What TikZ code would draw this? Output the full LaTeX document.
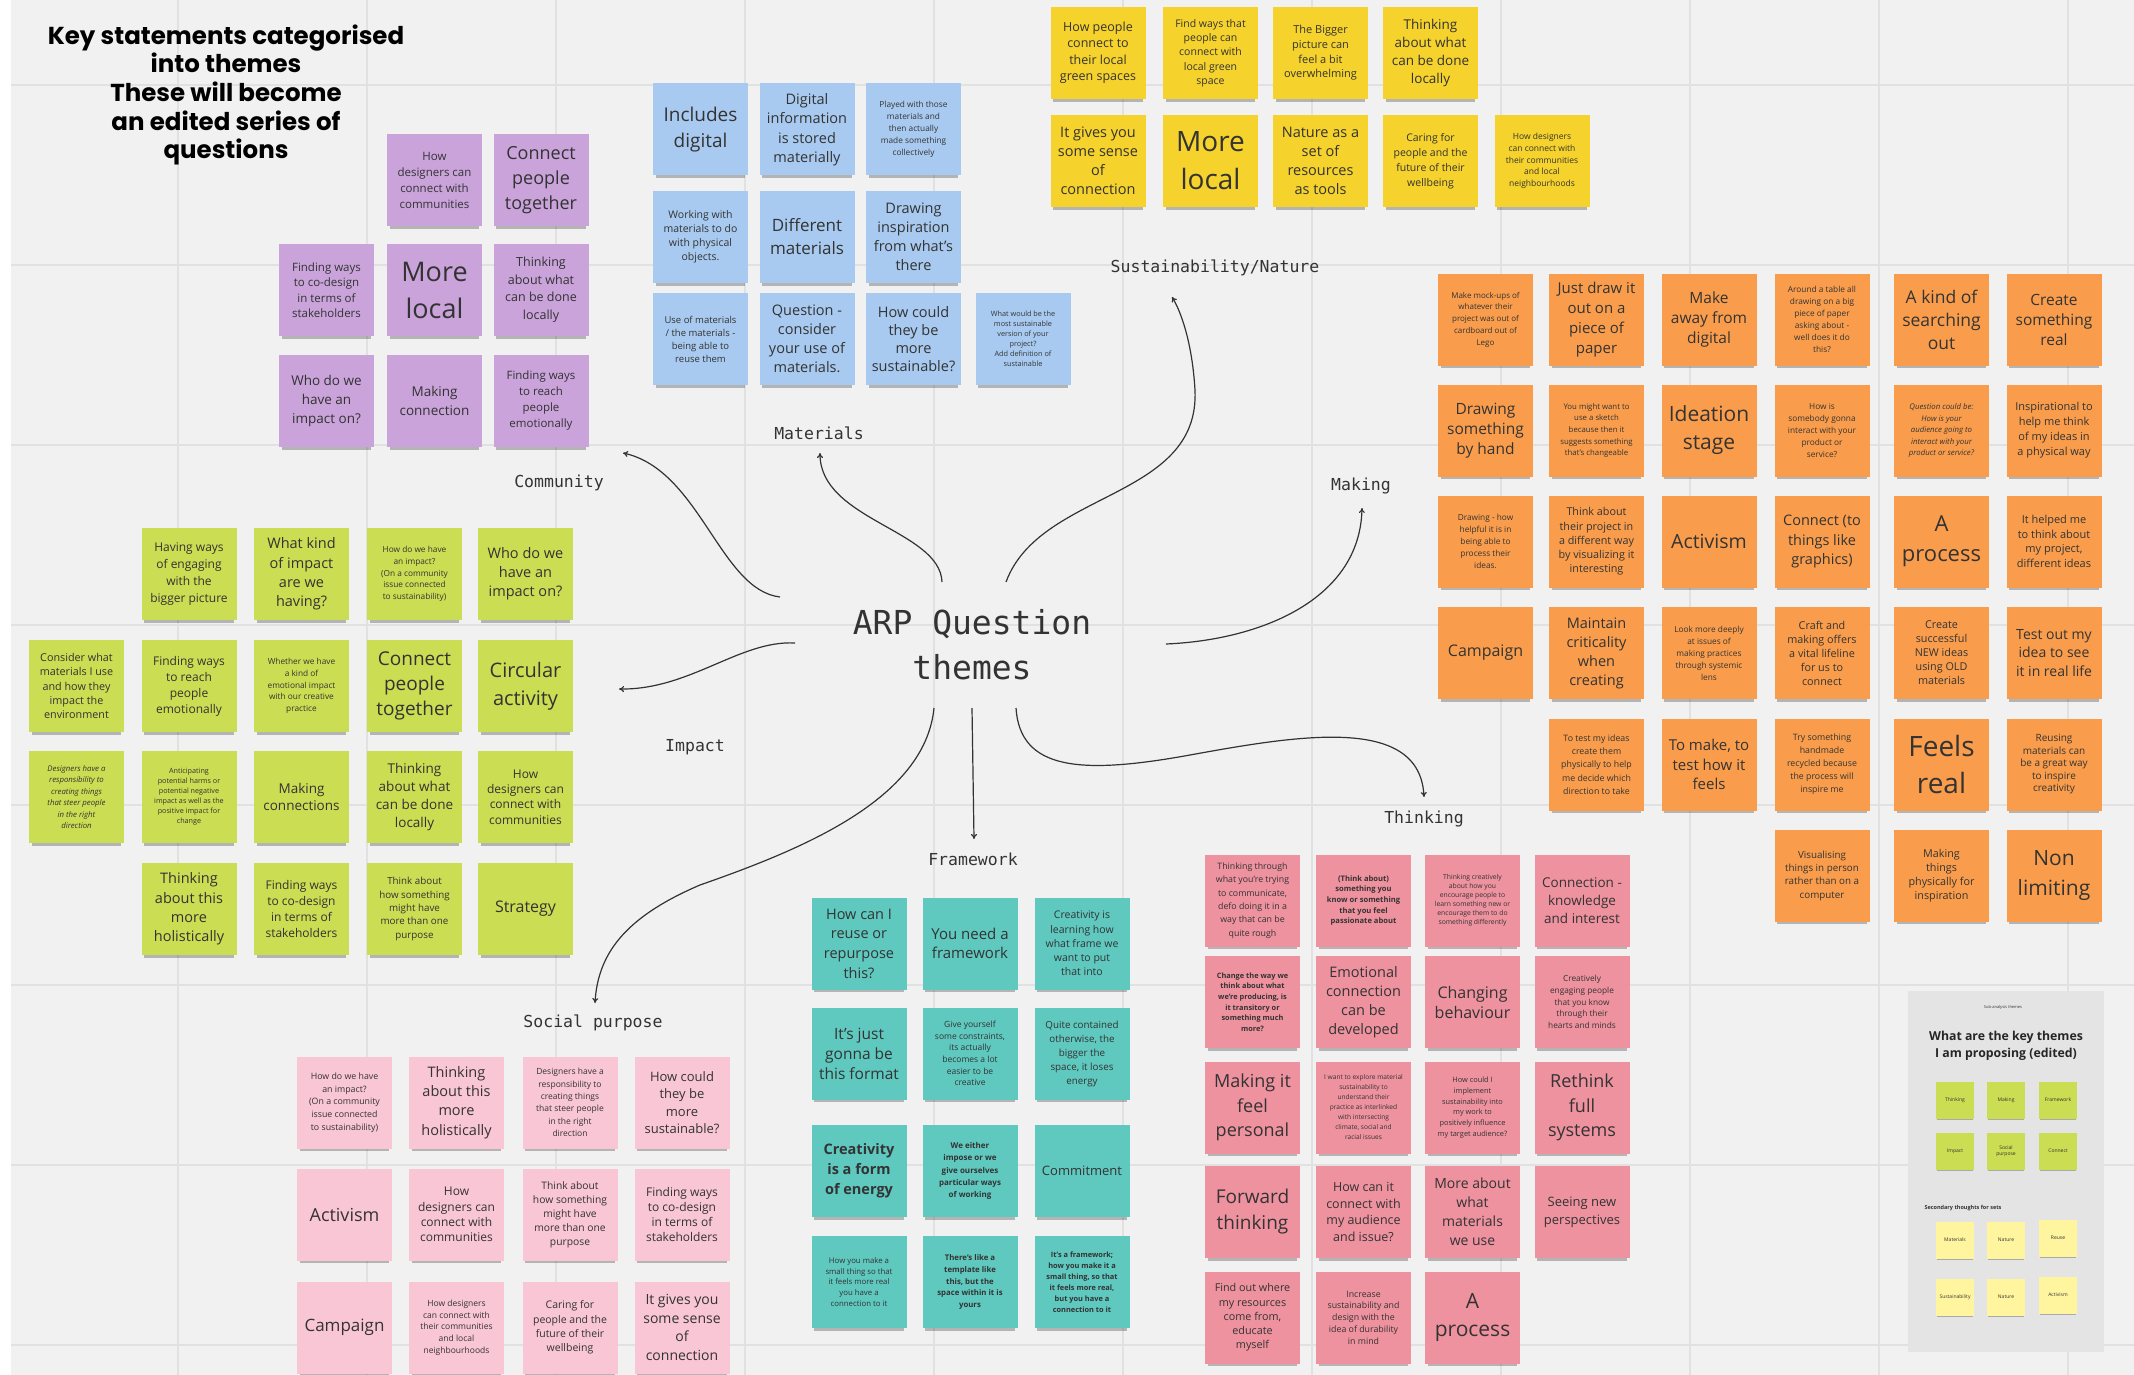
\documentclass[tikz,border=0pt]{standalone}
\usepackage{fontspec}
\setmainfont{Open Sans}
\newfontfamily\titlef{Poppins}
\newfontfamily\monof{DejaVu Sans Mono}
\usetikzlibrary{arrows.meta,shadows}
\definecolor{bg}{HTML}{F1F1F1}
\definecolor{gridc}{HTML}{E1E1E1}
\definecolor{ink}{HTML}{333333}
\definecolor{cpur}{HTML}{C9A3DA}
\definecolor{cblu}{HTML}{A8CAF0}
\definecolor{cyel}{HTML}{F6D22C}
\definecolor{cora}{HTML}{F99D4C}
\definecolor{clim}{HTML}{CBDD52}
\definecolor{cpin}{HTML}{F9C6D5}
\definecolor{ctea}{HTML}{5FC8BF}
\definecolor{cros}{HTML}{EE929F}
\definecolor{cpal}{HTML}{FFF59E}
\definecolor{cpan}{HTML}{E4E4E4}
\newcommand\nf[2]{\fontsize{#1}{#2}\selectfont}
\begin{document}
\begin{tikzpicture}[x=1pt,y=-1pt,
  note/.style={rectangle, minimum width=95pt, minimum height=92pt, inner sep=1pt, align=center, text=ink,
    general shadow={fill=black, opacity=0.25, shadow yshift=-6pt, shadow scale=0.94}},
  pur/.style={note, fill=cpur}, blu/.style={note, fill=cblu}, yel/.style={note, fill=cyel},
  ora/.style={note, fill=cora}, lim/.style={note, fill=clim}, pin/.style={note, fill=cpin},
  tea/.style={note, fill=ctea}, ros/.style={note, fill=cros},
  mini/.style={rectangle, minimum width=38pt, minimum height=37pt, inner sep=0pt, align=center, text=ink,
    font=\nf{5}{6}, general shadow={fill=black, opacity=0.25, shadow yshift=-3pt, shadow scale=0.94}},
  lbl/.style={font=\monof\nf{16.5}{20}, text=ink},
  conn/.style={draw=ink, line width=1.2pt, -{To[length=5pt,width=6pt]}}
]
\useasboundingbox (0,0) rectangle (2134,1375);
\fill[white] (0,0) rectangle (2134,1375);
\fill[bg] (11,0) rectangle (2134,1375);
\foreach \gx in {178,367,...,2068} \draw[gridc, line width=2pt] (\gx,0) -- (\gx,1375);
\foreach \gy in {85,265,...,1345} \draw[gridc, line width=2pt] (11,\gy) -- (2134,\gy);

% title
\node[font=\titlef\bfseries\nf{24.5}{28.7}, align=center, text=black] (title) at (226,95)
 {Key statements categorised\\into themes\\These will become\\an edited series of\\questions};

% Community
\node[pur, font=\nf{11.5}{16}] (c1) at (434.5,180) {How\\designers can\\connect with\\communities};
\node[pur, font=\nf{18}{25}] (c2) at (541,180) {Connect\\people\\together};
\node[pur, font=\nf{11.5}{15.5}] (c3) at (326.5,290) {Finding ways\\to co-design\\in terms of\\stakeholders};
\node[pur, font=\nf{27}{37}] (c4) at (434.5,290) {More\\local};
\node[pur, font=\nf{12.5}{17.5}] (c5) at (541,290) {Thinking\\about what\\can be done\\locally};
\node[pur, font=\nf{13.5}{19}] (c6) at (326.5,401) {Who do we\\have an\\impact on?};
\node[pur, font=\nf{13.5}{19}] (c7) at (434.5,401) {Making\\connection};
\node[pur, font=\nf{11.5}{16}] (c8) at (541,401) {Finding ways\\to reach\\people\\emotionally};

% Materials
\node[blu, font=\nf{19}{26}] (m1) at (700.5,129.5) {Includes\\digital};
\node[blu, font=\nf{14.5}{19.5}] (m2) at (807,129.5) {Digital\\information\\is stored\\materially};
\node[blu, font=\nf{8.3}{12}] (m3) at (913.5,129.5) {Played with those\\materials and\\then actually\\made something\\collectively};
\node[blu, font=\nf{10.5}{14}] (m4) at (700.5,237) {Working with\\materials to do\\with physical\\objects.};
\node[blu, font=\nf{17}{23}] (m5) at (807,237) {Different\\materials};
\node[blu, font=\nf{14.5}{19}] (m6) at (913.5,237) {Drawing\\inspiration\\from what's\\there};
\node[blu, font=\nf{9.5}{13}] (m7) at (700.5,339) {Use of materials\\/ the materials -\\being able to\\reuse them};
\node[blu, font=\nf{14.5}{19}] (m8) at (807,339) {Question -\\consider\\your use of\\materials.};
\node[blu, font=\nf{14.5}{18}] (m9) at (913.5,339) {How could\\they be\\more\\sustainable?};
\node[blu, font=\nf{7.3}{10}] (m10) at (1023,339) {What would be the\\most sustainable\\version of your\\project?\\Add definition of\\sustainable};

% Sustainability / Nature
\node[yel, font=\nf{12.5}{16.5}] (s1) at (1098,53) {How people\\connect to\\their local\\green spaces};
\node[yel, font=\nf{10.5}{14.3}] (s2) at (1210.5,53) {Find ways that\\people can\\connect with\\local green\\space};
\node[yel, font=\nf{11}{14.7}] (s3) at (1320.5,53) {The Bigger\\picture can\\feel a bit\\overwhelming};
\node[yel, font=\nf{13.5}{18}] (s4) at (1430.5,53) {Thinking\\about what\\can be done\\locally};
\node[yel, font=\nf{14.5}{19}] (s5) at (1098,161) {It gives you\\some sense\\of\\connection};
\node[yel, font=\nf{28}{38}] (s6) at (1210.5,161) {More\\local};
\node[yel, font=\nf{14.5}{19}] (s7) at (1320.5,161) {Nature as a\\set of\\resources\\as tools};
\node[yel, font=\nf{10.5}{15}] (s8) at (1430.5,161) {Caring for\\people and the\\future of their\\wellbeing};
\node[yel, font=\nf{8.5}{11.7}] (s9) at (1542,161) {How designers\\can connect with\\their communities\\and local\\neighbourhoods};

% Making
\node[ora, font=\nf{8}{11.7}] (k1) at (1485.5,319.5) {Make mock-ups of\\whatever their\\project was out of\\cardboard out of\\Lego};
\node[ora, font=\nf{15}{20}] (k2) at (1596.5,319.5) {Just draw it\\out on a\\piece of\\paper};
\node[ora, font=\nf{15.5}{20}] (k3) at (1709,319.5) {Make\\away from\\digital};
\node[ora, font=\nf{8.3}{12}] (k4) at (1822,319.5) {Around a table all\\drawing on a big\\piece of paper\\asking about -\\well does it do\\this?};
\node[ora, font=\nf{17.5}{23}] (k5) at (1941.5,319.5) {A kind of\\searching\\out};
\node[ora, font=\nf{15.5}{20}] (k6) at (2054,319.5) {Create\\something\\real};
\node[ora, font=\nf{15.5}{20}] (k7) at (1485.5,430.5) {Drawing\\something\\by hand};
\node[ora, font=\nf{7.8}{11.7}] (k8) at (1596.5,430.5) {You might want to\\use a sketch\\because then it\\suggests something\\that's changeable};
\node[ora, font=\nf{21}{28}] (k9) at (1709,430.5) {Ideation\\stage};
\node[ora, font=\nf{8.3}{12}] (k10) at (1822,430.5) {How is\\somebody gonna\\interact with your\\product or\\service?};
\node[ora, font=\itshape\nf{7.8}{11.5}] (k11) at (1941.5,430.5) {Question could be:\\How is your\\audience going to\\interact with your\\product or service?};
\node[ora, font=\nf{11}{15}] (k12) at (2054,430.5) {Inspirational to\\help me think\\of my ideas in\\a physical way};
\node[ora, font=\nf{8.3}{12}] (k13) at (1485.5,541.5) {Drawing - how\\helpful it is in\\being able to\\process their\\ideas.};
\node[ora, font=\nf{10.8}{14.3}] (k14) at (1596.5,541.5) {Think about\\their project in\\a different way\\by visualizing it\\interesting};
\node[ora, font=\nf{19.5}{24}] (k15) at (1709,541.5) {Activism};
\node[ora, font=\nf{14.5}{19.5}] (k16) at (1822,541.5) {Connect (to\\things like\\graphics)};
\node[ora, font=\nf{22}{30}] (k17) at (1941.5,541.5) {A\\process};
\node[ora, font=\nf{11}{14.7}] (k18) at (2054,541.5) {It helped me\\to think about\\my project,\\different ideas};
\node[ora, font=\nf{16}{20}] (k19) at (1485.5,653) {Campaign};
\node[ora, font=\nf{14.5}{19}] (k20) at (1596.5,653) {Maintain\\criticality\\when\\creating};
\node[ora, font=\nf{8.3}{12}] (k21) at (1709,653) {Look more deeply\\at issues of\\making practices\\through systemic\\lens};
\node[ora, font=\nf{10.8}{14}] (k22) at (1822,653) {Craft and\\making offers\\a vital lifeline\\for us to\\connect};
\node[ora, font=\nf{10.8}{14}] (k23) at (1941.5,653) {Create\\successful\\NEW ideas\\using OLD\\materials};
\node[ora, font=\nf{14}{18.5}] (k24) at (2054,653) {Test out my\\idea to see\\it in real life};
\node[ora, font=\nf{8.8}{13.3}] (k25) at (1596.5,764.5) {To test my ideas\\create them\\physically to help\\me decide which\\direction to take};
\node[ora, font=\nf{15}{19.5}] (k26) at (1709,764.5) {To make, to\\test how it\\feels};
\node[ora, font=\nf{8.8}{13}] (k27) at (1822,764.5) {Try something\\handmade\\recycled because\\the process will\\inspire me};
\node[ora, font=\nf{28}{37}] (k28) at (1941.5,764.5) {Feels\\real};
\node[ora, font=\nf{10}{12.5}] (k29) at (2054,764.5) {Reusing\\materials can\\be a great way\\to inspire\\creativity};
\node[ora, font=\nf{9.8}{13.3}] (k30) at (1822,875.5) {Visualising\\things in person\\rather than on a\\computer};
\node[ora, font=\nf{10.8}{14}] (k31) at (1941.5,875.5) {Making\\things\\physically for\\inspiration};
\node[ora, font=\nf{21}{30}] (k32) at (2054,875.5) {Non\\limiting};

% Impact
\node[lim, font=\nf{12}{16.7}] (i1) at (189,574) {Having ways\\of engaging\\with the\\bigger picture};
\node[lim, font=\nf{14.5}{19.3}] (i2) at (301.5,574) {What kind\\of impact\\are we\\having?};
\node[lim, font=\nf{8.3}{11.7}] (i3) at (414.5,574) {How do we have\\an impact?\\(On a community\\issue connected\\to sustainability)};
\node[lim, font=\nf{14.5}{19}] (i4) at (525.5,574) {Who do we\\have an\\impact on?};
\node[lim, font=\nf{10.8}{14.3}] (i5) at (76.5,686) {Consider what\\materials I use\\and how they\\impact the\\environment};
\node[lim, font=\nf{12}{16}] (i6) at (189,686) {Finding ways\\to reach\\people\\emotionally};
\node[lim, font=\nf{8.3}{11.7}] (i7) at (301.5,686) {Whether we have\\a kind of\\emotional impact\\with our creative\\practice};
\node[lim, font=\nf{19}{25}] (i8) at (414.5,686) {Connect\\people\\together};
\node[lim, font=\nf{20}{27.7}] (i9) at (525.5,686) {Circular\\activity};
\node[lim, font=\itshape\nf{7.8}{11.5}] (i10) at (76.5,797) {Designers have a\\responsibility to\\creating things\\that steer people\\in the right\\direction};
\node[lim, font=\nf{7.2}{10}] (i11) at (189,797) {Anticipating\\potential harms or\\potential negative\\impact as well as the\\positive impact for\\change};
\node[lim, font=\nf{13.5}{17.7}] (i12) at (301.5,797) {Making\\connections};
\node[lim, font=\nf{13.5}{17.7}] (i13) at (414.5,797) {Thinking\\about what\\can be done\\locally};
\node[lim, font=\nf{12}{15.3}] (i14) at (525.5,797) {How\\designers can\\connect with\\communities};
\node[lim, font=\nf{14.5}{19.3}] (i15) at (189,909) {Thinking\\about this\\more\\holistically};
\node[lim, font=\nf{12}{15.7}] (i16) at (301.5,909) {Finding ways\\to co-design\\in terms of\\stakeholders};
\node[lim, font=\nf{9.8}{13.3}] (i17) at (414.5,909) {Think about\\how something\\might have\\more than one\\purpose};
\node[lim, font=\nf{16}{20}] (i18) at (525.5,909) {Strategy};

% Social purpose
\node[pin, font=\nf{8.8}{12.7}] (p1) at (344.5,1102.5) {How do we have\\an impact?\\(On a community\\issue connected\\to sustainability)};
\node[pin, font=\nf{14.5}{19.3}] (p2) at (456.5,1102.5) {Thinking\\about this\\more\\holistically};
\node[pin, font=\nf{8.5}{12.3}] (p3) at (570,1102.5) {Designers have a\\responsibility to\\creating things\\that steer people\\in the right\\direction};
\node[pin, font=\nf{13}{17.3}] (p4) at (682,1102.5) {How could\\they be\\more\\sustainable?};
\node[pin, font=\nf{18}{22}] (p5) at (344.5,1214.5) {Activism};
\node[pin, font=\nf{12}{15.3}] (p6) at (456.5,1214.5) {How\\designers can\\connect with\\communities};
\node[pin, font=\nf{10.3}{14}] (p7) at (570,1214.5) {Think about\\how something\\might have\\more than one\\purpose};
\node[pin, font=\nf{12}{15.3}] (p8) at (682,1214.5) {Finding ways\\to co-design\\in terms of\\stakeholders};
\node[pin, font=\nf{17}{21}] (p9) at (344.5,1327.5) {Campaign};
\node[pin, font=\nf{8.5}{11.7}] (p10) at (456.5,1327.5) {How designers\\can connect with\\their communities\\and local\\neighbourhoods};
\node[pin, font=\nf{10.5}{14.3}] (p11) at (570,1327.5) {Caring for\\people and the\\future of their\\wellbeing};
\node[pin, font=\nf{14}{18.7}] (p12) at (682,1327.5) {It gives you\\some sense\\of\\connection};

% Framework
\node[tea, font=\nf{14.5}{19.7}] (f1) at (859,943.5) {How can I\\reuse or\\repurpose\\this?};
\node[tea, font=\nf{15}{18.7}] (f2) at (970,943.5) {You need a\\framework};
\node[tea, font=\nf{10.5}{14.3}] (f3) at (1082,943.5) {Creativity is\\learning how\\what frame we\\want to put\\that into};
\node[tea, font=\nf{15.5}{20}] (f4) at (859,1053.5) {It's just\\gonna be\\this format};
\node[tea, font=\nf{8.5}{11.7}] (f5) at (970,1053.5) {Give yourself\\some constraints,\\its actually\\becomes a lot\\easier to be\\creative};
\node[tea, font=\nf{9.8}{14}] (f6) at (1082,1053.5) {Quite contained\\otherwise, the\\bigger the\\space, it loses\\energy};
\node[tea, font=\bfseries\nf{14.5}{20}] (f7) at (859,1171) {Creativity\\is a form\\of energy};
\node[tea, font=\bfseries\nf{8}{12.3}] (f8) at (970,1171) {We either\\impose or we\\give ourselves\\particular ways\\of working};
\node[tea, font=\nf{13}{17}] (f9) at (1082,1171) {Commitment};
\node[tea, font=\nf{7.8}{10.7}] (f10) at (859,1282) {How you make a\\small thing so that\\it feels more real\\you have a\\connection to it};
\node[tea, font=\bfseries\nf{7.8}{11.7}] (f11) at (970,1282) {There's like a\\template like\\this, but the\\space within it is\\yours};
\node[tea, font=\bfseries\nf{7.4}{11}] (f12) at (1082,1282) {It's a framework;\\how you make it a\\small thing, so that\\it feels more real,\\but you have a\\connection to it};

% Thinking
\node[ros, font=\nf{8.8}{13.3}] (t1) at (1252.5,900.5) {Thinking through\\what you're trying\\to communicate,\\defo doing it in a\\way that can be\\quite rough};
\node[ros, font=\bfseries\nf{7.6}{10.7}] (t2) at (1363.5,900.5) {(Think about)\\something you\\know or something\\that you feel\\passionate about};
\node[ros, font=\nf{6.8}{9}] (t3) at (1472.5,900.5) {Thinking creatively\\about how you\\encourage people to\\learn something new or\\encourage them to do\\something differently};
\node[ros, font=\nf{13.5}{17.7}] (t4) at (1582,900.5) {Connection -\\knowledge\\and interest};
\node[ros, font=\bfseries\nf{7.4}{10.7}] (t5) at (1252.5,1002) {Change the way we\\think about what\\we're producing, is\\it transitory or\\something much\\more?};
\node[ros, font=\nf{14.5}{19}] (t6) at (1363.5,1002) {Emotional\\connection\\can be\\developed};
\node[ros, font=\nf{16}{20}] (t7) at (1472.5,1002) {Changing\\behaviour};
\node[ros, font=\nf{8.3}{11.7}] (t8) at (1582,1002) {Creatively\\engaging people\\that you know\\through their\\hearts and minds};
\node[ros, font=\nf{18}{24.3}] (t9) at (1252.5,1107.5) {Making it\\feel\\personal};
\node[ros, font=\nf{6.6}{10}] (t10) at (1363.5,1107.5) {I want to explore material\\sustainability to\\understand their\\practice as interlinked\\with intersecting\\climate, social and\\racial issues};
\node[ros, font=\nf{7.4}{10.7}] (t11) at (1472.5,1107.5) {How could I\\implement\\sustainability into\\my work to\\positively influence\\my target audience?};
\node[ros, font=\nf{18}{24.3}] (t12) at (1582,1107.5) {Rethink\\full\\systems};
\node[ros, font=\nf{19}{26}] (t13) at (1252.5,1212) {Forward\\thinking};
\node[ros, font=\nf{12.5}{16.7}] (t14) at (1363.5,1212) {How can it\\connect with\\my audience\\and issue?};
\node[ros, font=\nf{14}{19}] (t15) at (1472.5,1212) {More about\\what\\materials\\we use};
\node[ros, font=\nf{13}{17.7}] (t16) at (1582,1212) {Seeing new\\perspectives};
\node[ros, font=\nf{10.8}{14.3}] (t17) at (1252.5,1317.5) {Find out where\\my resources\\come from,\\educate\\myself};
\node[ros, font=\nf{8.8}{11.7}] (t18) at (1363.5,1317.5) {Increase\\sustainability and\\design with the\\idea of durability\\in mind};
\node[ros, font=\nf{21}{28.7}] (t19) at (1472.5,1317.5) {A\\process};

% right panel
\node[fill=cpan, minimum width=196pt, minimum height=361pt, inner sep=0pt] (panel) at (2006,1171.5) {};
\node[font=\nf{4}{5}, text=ink] (pcap) at (2003,1007) {Sub-analysis themes};
\node[font=\bfseries\nf{12.3}{17}, align=center, text=black!85] (phead) at (2006,1046) {What are the key themes\\I am proposing (edited)};
\node[mini, fill=clim] (g1) at (1955,1100) {Thinking};
\node[mini, fill=clim] (g2) at (2006,1100) {Making};
\node[mini, fill=clim] (g3) at (2058,1100) {Framework};
\node[mini, fill=clim] (g4) at (1955,1151) {Impact};
\node[mini, fill=clim] (g5) at (2006,1151) {Social\\purpose};
\node[mini, fill=clim] (g6) at (2058,1151) {Connect};
\node[font=\bfseries\nf{5.5}{7}, text=ink, anchor=west] (psec) at (1921,1208) {Secondary thoughts for sets};
\node[mini, fill=cpal] (y1) at (1955,1240) {Materials};
\node[mini, fill=cpal] (y2) at (2006,1240) {Nature};
\node[mini, fill=cpal] (y3) at (2058,1238) {Reuse};
\node[mini, fill=cpal] (y4) at (1955,1297) {Sustainability};
\node[mini, fill=cpal] (y5) at (2006,1297) {Nature};
\node[mini, fill=cpal] (y6) at (2058,1295) {Activism};

% centre and labels
\node[font=\monof\nf{33}{45}, align=center, text=ink] (arp) at (972,645) {ARP Question\\themes};
\node[lbl] (lCom) at (559,483) {Community};
\node[lbl] (lMat) at (819,433) {Materials};
\node[lbl] (lSus) at (1215,268) {Sustainability/Nature};
\node[lbl] (lMak) at (1361,486) {Making};
\node[lbl] (lImp) at (695,747) {Impact};
\node[lbl] (lFra) at (973,859) {Framework};
\node[lbl] (lSoc) at (593,1023) {Social purpose};
\node[lbl] (lThi) at (1424,819) {Thinking};

% connector ends
\coordinate (sCom) at (780,597);  \coordinate (eCom) at (623,453);
\coordinate (sMat) at (942,582);  \coordinate (eMat) at (820,453);
\coordinate (sSus) at (1006,582); \coordinate (eSus) at (1172,297);
\coordinate (sMak) at (1166,644); \coordinate (eMak) at (1362,508);
\coordinate (sImp) at (795,643);  \coordinate (eImp) at (619,689);
\coordinate (sSoc) at (934,708);  \coordinate (eSoc) at (595,1003);
\coordinate (sFra) at (972,708);  \coordinate (eFra) at (974,839);
\coordinate (sThi) at (1016,708); \coordinate (eThi) at (1424,797);

\draw[conn] (sCom) .. controls (720,590) and (700,470) .. (eCom);
\draw[conn] (sMat) .. controls (940,530) and (820,520) .. (eMat);
\draw[conn] (sSus) .. controls (1040,490) and (1200,500) .. (1195,390) .. controls (1192,340) and (1180,310) .. (eSus);
\draw[conn] (sMak) .. controls (1260,640) and (1360,600) .. (eMak);
\draw[conn] (sImp) .. controls (740,640) and (690,690) .. (eImp);
\draw[conn] (sSoc) .. controls (925,800) and (800,850) .. (700,885) .. controls (630,915) and (598,950) .. (eSoc);
\draw[conn] (sFra) -- (eFra);
\draw[conn] (sThi) .. controls (1020,770) and (1080,775) .. (1190,755) .. controls (1300,735) and (1420,715) .. (eThi);
\end{tikzpicture}
\end{document}
